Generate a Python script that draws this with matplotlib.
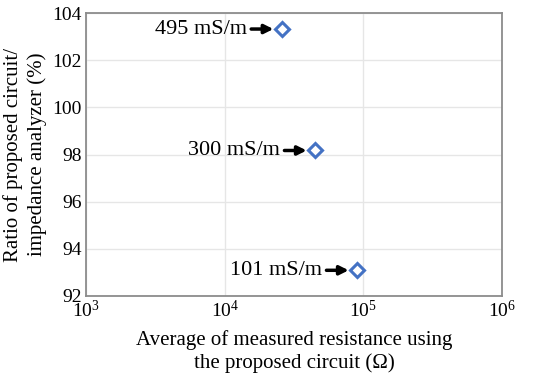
import matplotlib
matplotlib.use("Agg")
import matplotlib.pyplot as plt

# data
resistance = [25800, 44800, 90000]          # Ohm
ratio = [103.32, 98.17, 93.09]              # %
labels = ["495 mS/m", "300 mS/m", "101 mS/m"]

plt.rcParams['font.family'] = ['Liberation Serif', 'DejaVu Serif']
plt.rcParams['mathtext.fontset'] = 'stix'

fig = plt.figure(figsize=(5.5, 3.76), dpi=100)
ax = fig.add_axes([86 / 550, 1 - 296 / 376, (502 - 86) / 550, (296 - 13) / 376])

ax.plot(resistance, ratio, linestyle='none', marker='D', markersize=7.5,
        markerfacecolor='white', markeredgecolor='#4472C4', markeredgewidth=2.2,
        zorder=3)

for x, y, lab in zip(resistance, ratio, labels):
    ax.annotate(lab, xy=(x, y), xytext=(-25, 0), textcoords='offset points',
                ha='right', va='center', fontsize=16,
                arrowprops=dict(arrowstyle='-|>', color='black', lw=2.5,
                                shrinkA=1, shrinkB=6, mutation_scale=13))

ax.set_xscale('log')
ax.set_xlim(1e3, 1e6)
ax.set_ylim(92, 104)
ax.set_yticks([92, 94, 96, 98, 100, 102, 104])
ax.minorticks_off()
ax.grid(True, color='#e6e6e6', linewidth=1)
ax.set_axisbelow(True)
ax.tick_params(length=0, labelsize=14, pad=3)
ax.tick_params(axis='x', pad=3)
for s in ax.spines.values():
    s.set_color('#8c8c8c')
    s.set_linewidth(1.3)

ax.set_xlabel('Average of measured resistance using\nthe proposed circuit (Ω)',
              fontsize=15, labelpad=6, linespacing=1.25)
ax.set_ylabel('Ratio of proposed circuit/\nimpedance analyzer (%)',
              fontsize=15, labelpad=4, linespacing=1.25)

fig.savefig('out.png', dpi=100)
